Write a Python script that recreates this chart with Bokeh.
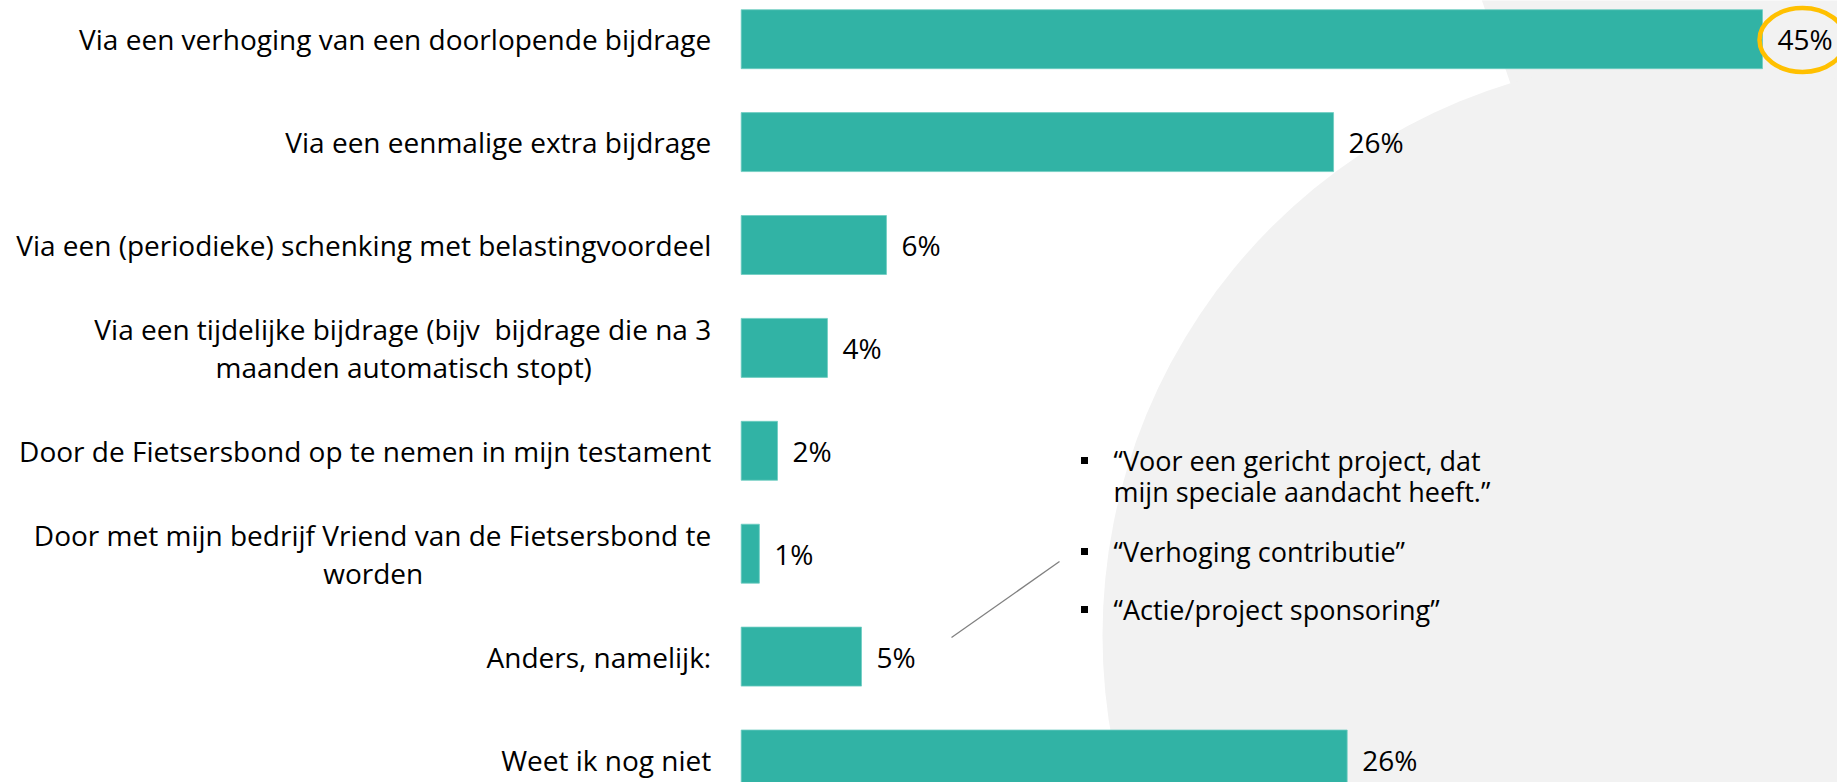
from bokeh.plotting import figure
from bokeh.models import Range1d, ColumnDataSource
from bokeh.embed import file_html
from bokeh.resources import INLINE
from bokeh.core.properties import value

# ---------------- data ----------------
categories = [
    "Via een verhoging van een doorlopende bijdrage",
    "Via een eenmalige extra bijdrage",
    "Via een (periodieke) schenking met belastingvoordeel",
    "Via een tijdelijke bijdrage (bijv  bijdrage die na 3\nmaanden automatisch stopt)",
    "Door de Fietsersbond op te nemen in mijn testament",
    "Door met mijn bedrijf Vriend van de Fietsersbond te\nworden",
    "Anders, namelijk:",
    "Weet ik nog niet",
]
values = [45.0, 26.1, 6.4, 3.8, 1.6, 0.8, 5.3, 26.7]
value_labels = ["45%", "26%", "6%", "4%", "2%", "1%", "5%", "26%"]
remarks = [
    "\u201cVoor een gericht project, dat\nmijn speciale aandacht heeft.\u201d",
    "\u201cVerhoging contributie\u201d",
    "\u201cActie/project sponsoring\u201d",
]

# ---------------- layout ----------------
W, H = 1837, 782
OFF = 0
FONT = "Open Sans"
FS = "28px"
FS_R = "27px"
BAR = "#31B3A5"
GRAY = "#F2F2F2"

px_per_unit_x = 1021.3 / 45.0
px_per_row = 102.9
x0 = -(740.7 - OFF) / px_per_unit_x
y_top = -(38.7 - OFF) / px_per_row

p = figure(width=W, height=H, output_backend="svg", toolbar_location=None,
           x_range=Range1d(x0, x0 + W / px_per_unit_x),
           y_range=Range1d(y_top + H / px_per_row, y_top),
           min_border=0, background_fill_color="white",
           border_fill_color="white")
p.xaxis.visible = False
p.yaxis.visible = False
p.grid.visible = False
p.outline_line_color = None

# decoration in page-pixel coordinates
p.extra_x_ranges = {"px": Range1d(OFF, OFF + W)}
p.extra_y_ranges = {"px": Range1d(OFF + H, OFF)}

p.patch(x=[1478, 1512, 1340, 1680, 1900, 1900], y=[-10, 89, 170, 635, 635, -10],
        fill_color=GRAY, line_color=None, x_range_name="px", y_range_name="px")
p.circle(x=[1680], y=[635], radius=578, fill_color=GRAY, line_color=None,
         x_range_name="px", y_range_name="px")

# bars
idx = list(range(len(categories)))
src = ColumnDataSource(dict(y=idx, v=values, lab=value_labels))
p.hbar(y="y", left=0, right="v", height=0.573, source=src,
       fill_color=BAR, line_color="#6FCDC1", line_width=0.8)

p.text(x="v", y="y", text="lab", source=src, x_offset=15, text_align="left",
       text_baseline="middle", text_font=value(FONT), text_font_size=FS,
       text_color="#000000")

def show(s):
    return s.replace("  ", " \u00a0")

# category labels
single_y, single_t = [], []
for i, c in enumerate(categories):
    if "\n" not in c:
        single_y.append(i)
        single_t.append(show(c))
p.text(x=0, y=single_y, text=single_t, x_offset=-30, text_align="right",
       text_baseline="middle", text_font=value(FONT), text_font_size=FS,
       text_color="#000000")

# two-line labels: lines centred on each other
centre_offset = {3: -337.5, 5: -368.0}
for i, off in centre_offset.items():
    l1, l2 = categories[i].split("\n")
    p.text(x=[0], y=[i], text=[show(l1)], x_offset=-30, y_offset=-19,
           text_align="right", text_baseline="middle", text_font=value(FONT),
           text_font_size=FS, text_color="#000000")
    p.text(x=[0], y=[i], text=[show(l2)], x_offset=off, y_offset=19,
           text_align="center", text_baseline="middle", text_font=value(FONT),
           text_font_size=FS, text_color="#000000")

# highlight ellipse around top value
p.ellipse(x=[1802], y=[39.5], width=86, height=64, fill_color=None,
          line_color="#FFC000", line_width=4.5, x_range_name="px", y_range_name="px")

# callout line
p.line(x=[951, 1059], y=[637, 561], line_color="#808080", line_width=1.3,
       x_range_name="px", y_range_name="px")

# remarks list
remark_lines, remark_y = [], []
starts = [460, 551, 609]
for r, y0 in zip(remarks, starts):
    for k, ln in enumerate(r.split("\n")):
        remark_lines.append(ln)
        remark_y.append(y0 + 31 * k)
p.scatter(x=[1084] * 3, y=starts, marker="square", size=7, fill_color="black",
          line_color=None, x_range_name="px", y_range_name="px")
p.text(x=[1113] * len(remark_lines), y=remark_y, text=remark_lines,
       text_align="left", text_baseline="middle", text_font=value(FONT),
       text_font_size=FS_R, text_color="#000000",
       x_range_name="px", y_range_name="px")

open("out.html", "w").write(file_html(p, INLINE))
